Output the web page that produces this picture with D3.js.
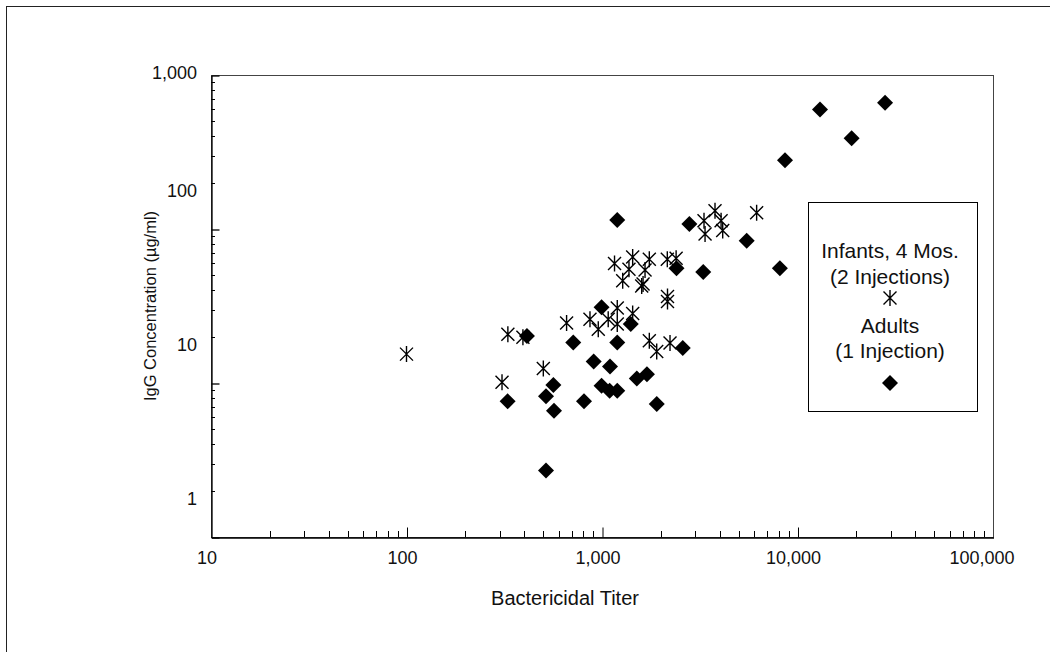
<!DOCTYPE html>
<html>
<head>
<meta charset="utf-8">
<script src="https://cdn.jsdelivr.net/npm/d3@7"></script>
<style>
  html, body { margin: 0; padding: 0; background: #fff; }
  svg { display: block; font-family: "Liberation Sans", Arial, sans-serif; }
</style>
</head>
<body>
<svg id="chart" width="1050" height="652"></svg>
<script>
// Infants, 4 months (2 injections): bactericidal titer vs IgG concentration
const infantTiter = [100, 330, 394, 308, 501, 659, 868, 957, 1076, 1197, 1197, 1435, 1746, 1905, 2228,
  1159, 1435, 1746, 2158, 2394, 1374, 1660, 1276, 1596, 1622, 2163, 2163, 3785, 6180, 3325, 4066, 4144, 3366];
const infantIgG = [15.4, 20.7, 19.8, 10.1, 12.4, 24.5, 25.9, 22.3, 25.9, 30.7, 24.2, 28.3, 18.8, 16.0, 18.2,
  59.7, 65.8, 63.6, 63.6, 64.5, 54.7, 54.2, 46.2, 42.7, 43.9, 36.5, 33.8, 131.5, 127.6, 113.2, 113.2, 97.8, 92.8];

// Adults (1 injection)
const adultTiter = [1197, 2799, 5495, 8128, 2404, 3296, 995, 1403, 713, 1197, 2588, 907, 1099, 564, 517,
  568, 809, 995, 1094, 1197, 1507, 1698, 1905, 517, 413, 329, 13030, 28050, 18920, 8630];
const adultIgG = [114.4, 107.7, 84.0, 55.6, 55.6, 52.6, 31.0, 24.2, 18.3, 18.3, 16.9, 13.8, 12.8, 9.7, 8.2,
  6.6, 7.6, 9.6, 8.9, 8.9, 10.7, 11.4, 7.3, 2.7, 20.2, 7.6, 598, 661, 388, 280];

const xTickValues = [10, 100, 1000, 10000, 100000];
const yTickValues = [1, 10, 100, 1000];
const xTitle = "Bactericidal Titer";
const yTitle = "IgG Concentration (µg/ml)";
const legendLines = ["Infants, 4 Mos.", "(2 Injections)", "Adults", "(1 Injection)"];

const svg = d3.select("#chart");
const plot = { left: 211, right: 993, top: 75, bottom: 537 };

const x = d3.scaleLog().domain([10, 100000]).range([plot.left, plot.right]);
const y = d3.scaleLog().domain([1, 1000]).range([plot.bottom, plot.top]);
const fmt = d3.format(",");

// outer frame (top and left edges fall inside the page)
svg.append("rect")
  .attr("x", 6.5).attr("y", 6.5).attr("width", 1200).attr("height", 800)
  .attr("fill", "none").attr("stroke", "#222").attr("stroke-width", 1);

// plot box
svg.append("rect")
  .attr("x", plot.left + 0.5).attr("y", plot.top + 0.5)
  .attr("width", plot.right - plot.left).attr("height", plot.bottom - plot.top)
  .attr("fill", "none").attr("stroke", "#444").attr("stroke-width", 1);

// minor tick values for each decade
function minorTicks(lo, hi) {
  const out = [];
  for (let d = lo; d < hi; d *= 10) for (let k = 2; k <= 9; k++) out.push(d * k);
  return out;
}

// x axis: ticks point up into the plot
const xAxis = d3.axisBottom(x).tickValues(xTickValues).tickFormat(() => "").tickSizeInner(-10).tickSizeOuter(0);
const gx = svg.append("g").attr("transform", `translate(0.5,${plot.bottom + 0.5})`).call(xAxis);
gx.select(".domain").attr("stroke", "#000").attr("stroke-width", 1.3);
gx.selectAll(".tick line").attr("stroke", "#000");
gx.selectAll(".tick").filter(d => d === 10 || d === 100000).select("line").remove();
svg.append("g").selectAll("line").data(minorTicks(10, 100000)).join("line")
  .attr("x1", d => Math.round(x(d)) + 0.5).attr("x2", d => Math.round(x(d)) + 0.5)
  .attr("y1", plot.bottom).attr("y2", plot.bottom - 6)
  .attr("stroke", "#000");
svg.append("g").selectAll("text").data(xTickValues).join("text")
  .attr("x", d => x(d) - (d === 100000 ? 11 : 4))
  .attr("y", 564)
  .attr("text-anchor", "middle")
  .attr("font-size", 18)
  .attr("fill", "#111")
  .text(d => fmt(d));

// y axis: ticks point right into the plot
const yAxis = d3.axisLeft(y).tickValues(yTickValues).tickFormat(() => "").tickSizeInner(-8).tickSizeOuter(0);
const gy = svg.append("g").attr("transform", `translate(${plot.left + 0.5},0.5)`).call(yAxis);
gy.select(".domain").attr("stroke", "#000").attr("stroke-width", 1.3);
gy.selectAll(".tick line").attr("stroke", "#000").attr("stroke-width", 1.3);
svg.append("g").selectAll("line").data(minorTicks(1, 1000)).join("line")
  .attr("x1", plot.left).attr("x2", plot.left + 4)
  .attr("y1", d => Math.round(y(d)) + 0.5).attr("y2", d => Math.round(y(d)) + 0.5)
  .attr("stroke", "#000");
// labels sit just above their decade line, the top one level with it
svg.append("g").selectAll("text").data(yTickValues).join("text")
  .attr("x", 197)
  .attr("y", d => y(d) - (d === 1000 ? 2 : 38))
  .attr("dy", "0.35em")
  .attr("text-anchor", "end")
  .attr("font-size", 18)
  .attr("fill", "#111")
  .text(d => fmt(d));

// axis titles
svg.append("text")
  .attr("x", 565).attr("y", 605)
  .attr("text-anchor", "middle").attr("font-size", 20).attr("fill", "#111")
  .text(xTitle);
svg.append("text")
  .attr("transform", `translate(156,${(plot.top + plot.bottom) / 2}) rotate(-90)`)
  .attr("text-anchor", "middle").attr("font-size", 16.5).attr("fill", "#111")
  .text(yTitle);

// marker shapes
const diamondPath = "M0,-8L8,0L0,8L-8,0Z";
const asteriskPath = "M-6.5,-6.5L6.5,6.5M-6.5,6.5L6.5,-6.5M0,-8L0,8";

const infants = infantTiter.map((t, i) => ({ t, v: infantIgG[i] }));
const adults = adultTiter.map((t, i) => ({ t, v: adultIgG[i] }));

svg.append("g").selectAll("path").data(infants).join("path")
  .attr("transform", d => `translate(${x(d.t)},${y(d.v)})`)
  .attr("d", asteriskPath)
  .attr("fill", "none").attr("stroke", "#000").attr("stroke-width", 1.4);

svg.append("g").selectAll("path").data(adults).join("path")
  .attr("transform", d => `translate(${x(d.t)},${y(d.v)})`)
  .attr("d", diamondPath)
  .attr("fill", "#000");

// legend
const lg = svg.append("g");
lg.append("rect")
  .attr("x", 808.5).attr("y", 202.5).attr("width", 169).attr("height", 209)
  .attr("fill", "#fff").attr("stroke", "#000");
const lineY = [251, 277, 326, 351];
lg.selectAll("text").data(legendLines).join("text")
  .attr("x", 890).attr("y", (d, i) => lineY[i]).attr("dy", "0.35em")
  .attr("text-anchor", "middle").attr("font-size", 21).attr("fill", "#111")
  .text(d => d);
lg.append("path").attr("transform", "translate(890,298)").attr("d", asteriskPath)
  .attr("fill", "none").attr("stroke", "#000").attr("stroke-width", 1.4);
lg.append("path").attr("transform", "translate(890,383)").attr("d", diamondPath).attr("fill", "#000");
</script>
</body>
</html>
